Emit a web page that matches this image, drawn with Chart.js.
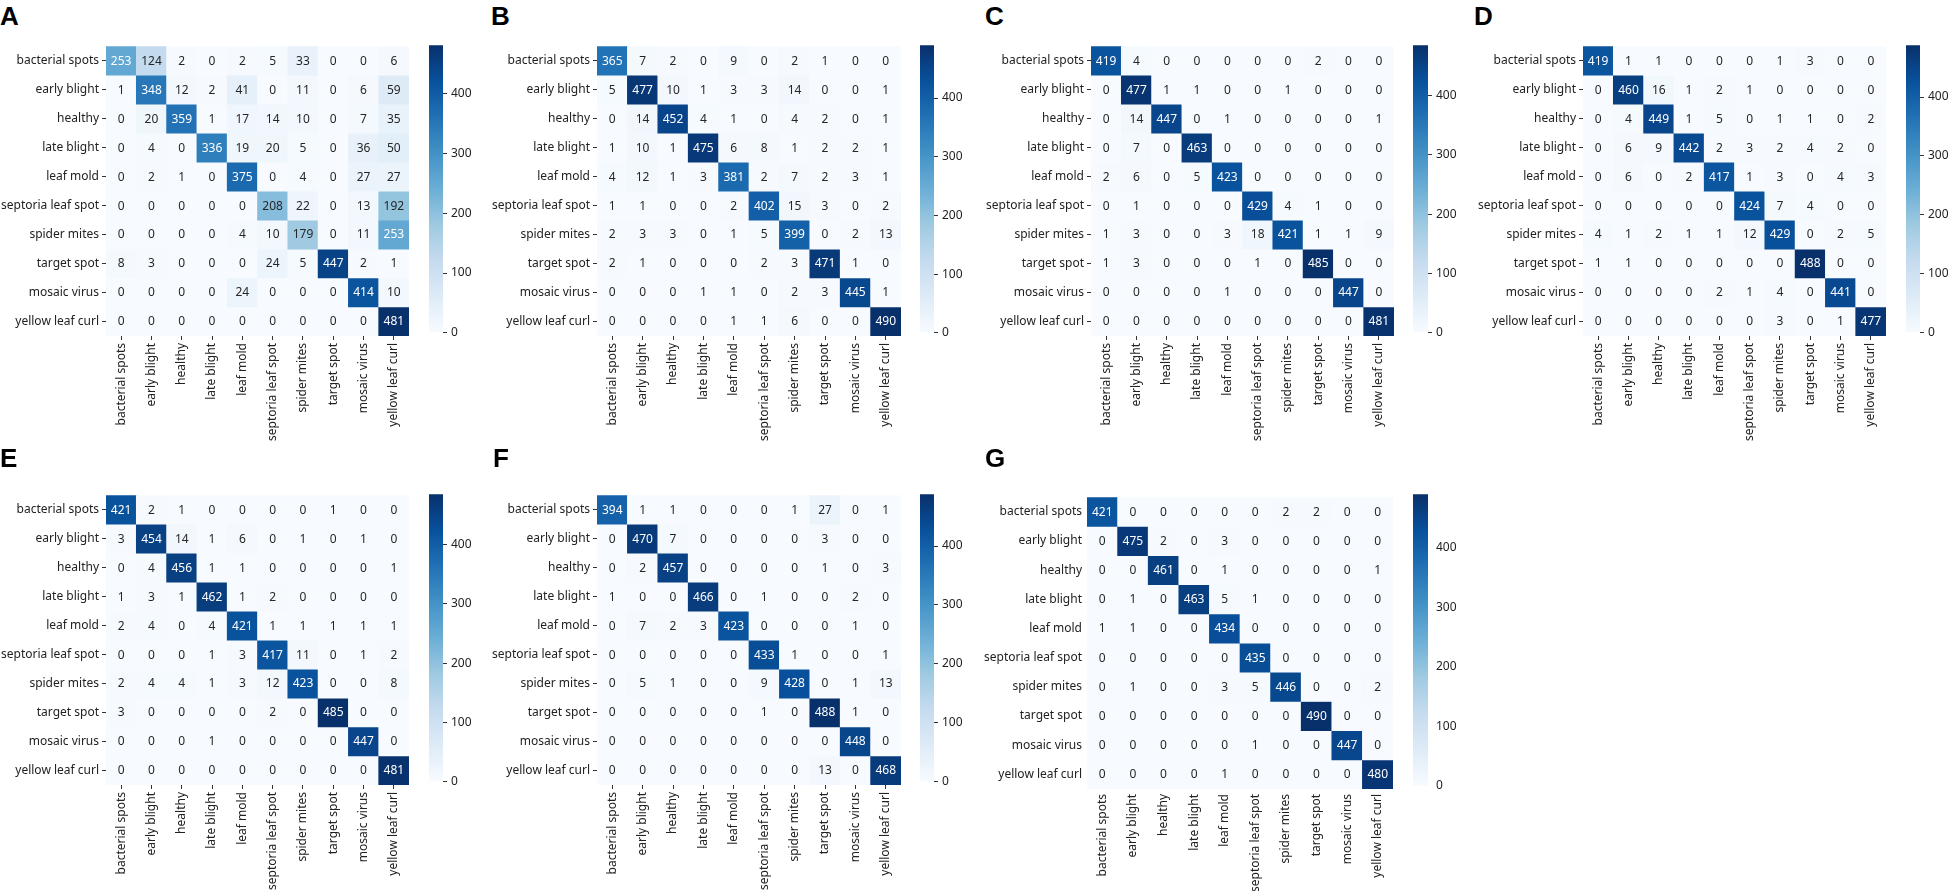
<!DOCTYPE html>
<html>
<head>
<meta charset="utf-8">
<script src="https://cdn.jsdelivr.net/npm/chart.js@4/dist/chart.umd.min.js"></script>
<style>
  body { margin: 0; background: #fff; width: 1949px; height: 891px; overflow: hidden; position: relative; }
  canvas { position: absolute; }
  .tag { position: absolute; font: bold 26px "Liberation Sans", Arial, sans-serif; line-height: 26px; color: #000; }
</style>
</head>
<body>
<script>
// Class names (rows = true, columns = predicted)
const classes = ['bacterial spots', 'early blight', 'healthy', 'late blight', 'leaf mold',
  'septoria leaf spot', 'spider mites', 'target spot', 'mosaic virus', 'yellow leaf curl'];

const cbarTicks = [0, 100, 200, 300, 400];

const matrixA = [
  [253, 124, 2, 0, 2, 5, 33, 0, 0, 6],
  [1, 348, 12, 2, 41, 0, 11, 0, 6, 59],
  [0, 20, 359, 1, 17, 14, 10, 0, 7, 35],
  [0, 4, 0, 336, 19, 20, 5, 0, 36, 50],
  [0, 2, 1, 0, 375, 0, 4, 0, 27, 27],
  [0, 0, 0, 0, 0, 208, 22, 0, 13, 192],
  [0, 0, 0, 0, 4, 10, 179, 0, 11, 253],
  [8, 3, 0, 0, 0, 24, 5, 447, 2, 1],
  [0, 0, 0, 0, 24, 0, 0, 0, 414, 10],
  [0, 0, 0, 0, 0, 0, 0, 0, 0, 481],
];
const matrixB = [
  [365, 7, 2, 0, 9, 0, 2, 1, 0, 0],
  [5, 477, 10, 1, 3, 3, 14, 0, 0, 1],
  [0, 14, 452, 4, 1, 0, 4, 2, 0, 1],
  [1, 10, 1, 475, 6, 8, 1, 2, 2, 1],
  [4, 12, 1, 3, 381, 2, 7, 2, 3, 1],
  [1, 1, 0, 0, 2, 402, 15, 3, 0, 2],
  [2, 3, 3, 0, 1, 5, 399, 0, 2, 13],
  [2, 1, 0, 0, 0, 2, 3, 471, 1, 0],
  [0, 0, 0, 1, 1, 0, 2, 3, 445, 1],
  [0, 0, 0, 0, 1, 1, 6, 0, 0, 490],
];
const matrixC = [
  [419, 4, 0, 0, 0, 0, 0, 2, 0, 0],
  [0, 477, 1, 1, 0, 0, 1, 0, 0, 0],
  [0, 14, 447, 0, 1, 0, 0, 0, 0, 1],
  [0, 7, 0, 463, 0, 0, 0, 0, 0, 0],
  [2, 6, 0, 5, 423, 0, 0, 0, 0, 0],
  [0, 1, 0, 0, 0, 429, 4, 1, 0, 0],
  [1, 3, 0, 0, 3, 18, 421, 1, 1, 9],
  [1, 3, 0, 0, 0, 1, 0, 485, 0, 0],
  [0, 0, 0, 0, 1, 0, 0, 0, 447, 0],
  [0, 0, 0, 0, 0, 0, 0, 0, 0, 481],
];
const matrixD = [
  [419, 1, 1, 0, 0, 0, 1, 3, 0, 0],
  [0, 460, 16, 1, 2, 1, 0, 0, 0, 0],
  [0, 4, 449, 1, 5, 0, 1, 1, 0, 2],
  [0, 6, 9, 442, 2, 3, 2, 4, 2, 0],
  [0, 6, 0, 2, 417, 1, 3, 0, 4, 3],
  [0, 0, 0, 0, 0, 424, 7, 4, 0, 0],
  [4, 1, 2, 1, 1, 12, 429, 0, 2, 5],
  [1, 1, 0, 0, 0, 0, 0, 488, 0, 0],
  [0, 0, 0, 0, 2, 1, 4, 0, 441, 0],
  [0, 0, 0, 0, 0, 0, 3, 0, 1, 477],
];
const matrixE = [
  [421, 2, 1, 0, 0, 0, 0, 1, 0, 0],
  [3, 454, 14, 1, 6, 0, 1, 0, 1, 0],
  [0, 4, 456, 1, 1, 0, 0, 0, 0, 1],
  [1, 3, 1, 462, 1, 2, 0, 0, 0, 0],
  [2, 4, 0, 4, 421, 1, 1, 1, 1, 1],
  [0, 0, 0, 1, 3, 417, 11, 0, 1, 2],
  [2, 4, 4, 1, 3, 12, 423, 0, 0, 8],
  [3, 0, 0, 0, 0, 2, 0, 485, 0, 0],
  [0, 0, 0, 1, 0, 0, 0, 0, 447, 0],
  [0, 0, 0, 0, 0, 0, 0, 0, 0, 481],
];
const matrixF = [
  [394, 1, 1, 0, 0, 0, 1, 27, 0, 1],
  [0, 470, 7, 0, 0, 0, 0, 3, 0, 0],
  [0, 2, 457, 0, 0, 0, 0, 1, 0, 3],
  [1, 0, 0, 466, 0, 1, 0, 0, 2, 0],
  [0, 7, 2, 3, 423, 0, 0, 0, 1, 0],
  [0, 0, 0, 0, 0, 433, 1, 0, 0, 1],
  [0, 5, 1, 0, 0, 9, 428, 0, 1, 13],
  [0, 0, 0, 0, 0, 1, 0, 488, 1, 0],
  [0, 0, 0, 0, 0, 0, 0, 0, 448, 0],
  [0, 0, 0, 0, 0, 0, 0, 13, 0, 468],
];
const matrixG = [
  [421, 0, 0, 0, 0, 0, 2, 2, 0, 0],
  [0, 475, 2, 0, 3, 0, 0, 0, 0, 0],
  [0, 0, 461, 0, 1, 0, 0, 0, 0, 1],
  [0, 1, 0, 463, 5, 1, 0, 0, 0, 0],
  [1, 1, 0, 0, 434, 0, 0, 0, 0, 0],
  [0, 0, 0, 0, 0, 435, 0, 0, 0, 0],
  [0, 1, 0, 0, 3, 5, 446, 0, 0, 2],
  [0, 0, 0, 0, 0, 0, 0, 490, 0, 0],
  [0, 0, 0, 0, 0, 1, 0, 0, 447, 0],
  [0, 0, 0, 0, 1, 0, 0, 0, 0, 480],
];

// Panel placement (plot area and colorbar in page pixels)
const panels = [
  { tag: 'A', m: matrixA, tx: 0,    ty: 6,   x: 106,  y: 42,  w: 303, h: 294, cbX: 429,  cbW: 14, ticks: true },
  { tag: 'B', m: matrixB, tx: 491,  ty: 6,   x: 597,  y: 42,  w: 304, h: 294, cbX: 920,  cbW: 14, ticks: true },
  { tag: 'C', m: matrixC, tx: 985,  ty: 6,   x: 1091, y: 42,  w: 303, h: 294, cbX: 1413, cbW: 15, ticks: true },
  { tag: 'D', m: matrixD, tx: 1474, ty: 6,   x: 1583, y: 42,  w: 303, h: 294, cbX: 1906, cbW: 14, ticks: true },
  { tag: 'E', m: matrixE, tx: 0,    ty: 448, x: 106,  y: 491, w: 303, h: 294, cbX: 429,  cbW: 14, ticks: true },
  { tag: 'F', m: matrixF, tx: 493,  ty: 448, x: 597,  y: 491, w: 304, h: 294, cbX: 920,  cbW: 14, ticks: true },
  { tag: 'G', m: matrixG, tx: 985,  ty: 448, x: 1087, y: 491, w: 306, h: 298, cbX: 1413, cbW: 15, ticks: false },
];

const Y_AXIS_W = 120;
const X_AXIS_H = 115;
const PAD = 6;
const FONT = '"Noto Sans", "Open Sans", sans-serif';

Chart.defaults.font.family = FONT;
Chart.defaults.font.size = 12;
Chart.defaults.color = '#222';

// matplotlib "Blues"
const blues = ['#f7fbff', '#deebf7', '#c6dbef', '#9ecae1', '#6baed6', '#4292c6', '#2171b5', '#08519c', '#08306b'];

function hexRgb(h) {
  return [parseInt(h.slice(1, 3), 16), parseInt(h.slice(3, 5), 16), parseInt(h.slice(5, 7), 16)];
}

function bluesRgb(t) {
  t = Math.max(0, Math.min(1, t));
  const p = t * (blues.length - 1);
  const i = Math.min(Math.floor(p), blues.length - 2);
  const f = p - i;
  const a = hexRgb(blues[i]), b = hexRgb(blues[i + 1]);
  return a.map((v, k) => Math.round(v + (b[k] - v) * f));
}

function rgbStr(c) { return `rgb(${c[0]},${c[1]},${c[2]})`; }

// seaborn picks white text on dark cells
function textColor(c) {
  const lin = c.map(v => {
    v /= 255;
    return v <= 0.03928 ? v / 12.92 : Math.pow((v + 0.055) / 1.055, 2.4);
  });
  const lum = 0.2126 * lin[0] + 0.7152 * lin[1] + 0.0722 * lin[2];
  return lum > 0.408 ? '#262626' : '#ffffff';
}

const cellLabels = {
  id: 'cellLabels',
  afterDatasetsDraw(chart) {
    const { ctx } = chart;
    const vmax = chart.options.plugins.cellLabels.vmax;
    ctx.save();
    ctx.font = `12px ${FONT}`;
    ctx.textAlign = 'center';
    ctx.textBaseline = 'middle';
    chart.data.datasets.forEach((ds, di) => {
      chart.getDatasetMeta(di).data.forEach((bar, ci) => {
        const v = ds.counts[ci];
        ctx.fillStyle = textColor(bluesRgb(v / vmax));
        ctx.fillText(String(v), bar.x, (bar.y + bar.base) / 2 + 0.5);
      });
    });
    ctx.restore();
  },
};

function addCanvas(left, top, width, height) {
  const c = document.createElement('canvas');
  c.width = width;
  c.height = height;
  c.style.left = left + 'px';
  c.style.top = top + 'px';
  c.style.width = width + 'px';
  c.style.height = height + 'px';
  document.body.appendChild(c);
  return c;
}

function drawHeatmap(p) {
  const vmax = Math.max(...p.m.flat());
  const width = Y_AXIS_W + p.w + PAD;
  const height = PAD + p.h + X_AXIS_H;
  const canvas = addCanvas(p.x - Y_AXIS_W, p.y - PAD, width, height);
  const tickGrid = {
    display: true,
    drawOnChartArea: false,
    drawTicks: p.ticks,
    tickLength: 4,
    color: '#333',
    lineWidth: 1,
  };

  new Chart(canvas, {
    type: 'bar',
    data: {
      labels: classes,
      datasets: p.m.map((row, r) => ({
        data: classes.map(() => [r, r + 1]),
        counts: row,
        backgroundColor: row.map(v => rgbStr(bluesRgb(v / vmax))),
        borderWidth: 0,
        grouped: false,
        barPercentage: 1,
        categoryPercentage: 1,
      })),
    },
    options: {
      responsive: false,
      animation: false,
      layout: { padding: { top: PAD, right: PAD, left: 0, bottom: 0 } },
      plugins: {
        legend: { display: false },
        tooltip: { enabled: false },
        cellLabels: { vmax },
      },
      scales: {
        x: {
          type: 'category',
          grid: { ...tickGrid, offset: false },
          border: { display: false },
          ticks: { autoSkip: false, minRotation: 90, maxRotation: 90, padding: p.ticks ? 3 : 5 },
          afterFit: axis => { axis.height = X_AXIS_H; },
        },
        y: {
          type: 'linear',
          min: 0,
          max: classes.length,
          reverse: true,
          grid: tickGrid,
          border: { display: false },
          afterBuildTicks: axis => { axis.ticks = classes.map((_, i) => ({ value: i + 0.5 })); },
          ticks: { autoSkip: false, padding: p.ticks ? 3 : 5, callback: (v, i) => classes[i] },
          afterFit: axis => { axis.width = Y_AXIS_W; },
        },
      },
    },
    plugins: [cellLabels],
  });
}

function drawColorbar(p) {
  const vmax = Math.max(...p.m.flat());
  const canvas = addCanvas(p.cbX, p.y - 8, p.cbW + 40, p.h + 16);

  new Chart(canvas, {
    type: 'bar',
    data: {
      labels: ['cbar'],
      datasets: [{
        data: [[0, vmax]],
        borderWidth: 0,
        barPercentage: 1,
        categoryPercentage: 1,
        backgroundColor: ctx => {
          const area = ctx.chart.chartArea;
          if (!area) return blues[4];
          const g = ctx.chart.ctx.createLinearGradient(0, area.bottom, 0, area.top);
          blues.forEach((c, i) => g.addColorStop(i / (blues.length - 1), c));
          return g;
        },
      }],
    },
    options: {
      responsive: false,
      animation: false,
      layout: { padding: { top: 8, bottom: 8, left: 0, right: 0 } },
      plugins: { legend: { display: false }, tooltip: { enabled: false } },
      scales: {
        x: { display: false },
        y: {
          position: 'right',
          min: 0,
          max: vmax,
          grid: { display: p.ticks, drawOnChartArea: false, tickLength: 4, color: '#333', lineWidth: 1 },
          border: { display: false },
          afterBuildTicks: axis => { axis.ticks = cbarTicks.map(v => ({ value: v })); },
          ticks: { padding: 4 },
          afterFit: axis => { axis.width = 40; },
        },
      },
    },
  });
}

panels.forEach(p => {
  const tag = document.createElement('div');
  tag.className = 'tag';
  tag.textContent = p.tag;
  tag.style.left = p.tx + 'px';
  tag.style.top = (p.ty - 3.4) + 'px';
  document.body.appendChild(tag);
  drawHeatmap(p);
  drawColorbar(p);
});
</script>
</body>
</html>
